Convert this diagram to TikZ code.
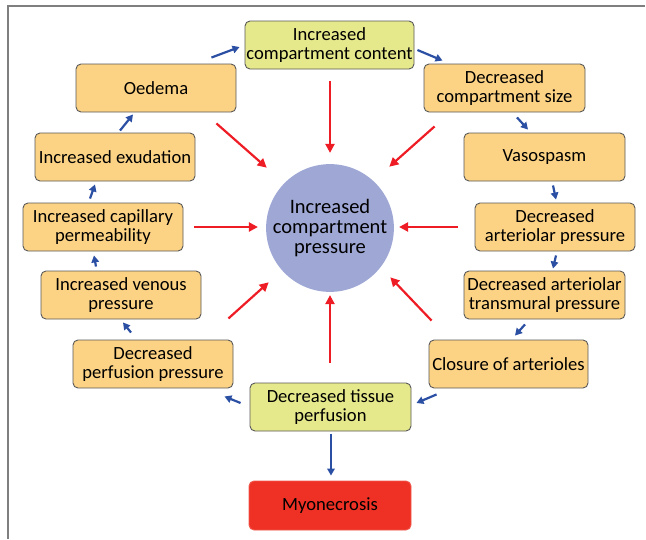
\documentclass[tikz,border=0pt]{standalone}
\usepackage{fontspec}
\setmainfont{Carlito}
\usetikzlibrary{arrows.meta,calc}
\definecolor{boxor}{HTML}{FCD385}
\definecolor{boxgr}{HTML}{E5E88B}
\definecolor{boxred}{HTML}{EE3124}
\definecolor{circ}{HTML}{9FA8D5}
\definecolor{barrow}{HTML}{2A4FA3}
\definecolor{rarrow}{HTML}{EE1C25}
\definecolor{frame}{HTML}{7F7F7F}
\tikzset{
  x=1pt,y=-1pt,
  box/.style={draw=black!65,line width=0.9pt,rounded corners=5pt,fill=boxor,
    minimum width=160pt,minimum height=48pt,inner sep=0pt,align=center,
    font=\fontsize{18.6}{19}\selectfont},
  gbox/.style={box,fill=boxgr},
  rbox/.style={box,fill=boxred,draw=boxred!80!white},
  barr/.style={draw=barrow,line width=2.2pt,-{Triangle[length=7pt,width=7.5pt]}},
  rarr/.style={draw=rarrow,line width=2.2pt,-{Triangle[length=9pt,width=9pt]}},
}
\begin{document}
\begin{tikzpicture}
\useasboundingbox (0,0) rectangle (646,539);
\draw[frame,line width=1.6pt] (8,539) -- (8,6) -- (645,6);

\node[gbox,minimum width=169pt] (cont) at (329.5,45) {Increased\\compartment content};
\node[box] (oed) at (156,88) {Oedema};
\node[box,minimum width=161pt] (size) at (504.5,88) {Decreased\\compartment size};
\node[box] (exu) at (115,157) {Increased exudation};
\node[box,minimum width=161pt] (vaso) at (544.5,157) {Vasospasm};
\node[box] (cap) at (103,227) {Increased capillary\\permeability};
\node[box] (dap) at (555,227) {Decreased\\arteriolar pressure};
\node[box] (ven) at (121,295) {Increased venous\\pressure};
\node[box,minimum width=161pt] (trans) at (544.5,295) {Decreased arteriolar\\transmural pressure};
\node[box] (dpp) at (153,364) {Decreased\\perfusion pressure};
\node[box,minimum width=159pt] (clo) at (508.5,364) {Closure of arterioles};
\node[gbox,minimum width=161pt] (tis) at (330.5,407) {Decreased tissue\\perfusion};
\node[rbox,minimum width=162pt,minimum height=49pt] (myo) at (330,505.5) {Myonecrosis};
\node[circle,fill=circ,minimum size=124pt,inner sep=0pt,align=center,
  font=\fontsize{20.5}{20}\selectfont] (cp) at (330,228) {Increased\\compartment\\pressure};

% blue cycle arrows
\draw[barr] ($(oed.north east)+(-25,-6)$) -- ($(cont.west)+(-5,2)$);
\draw[barr] ($(cont.east)+(3,5)$) -- ($(size.north west)+(19,-3)$);
\draw[barr] ($(size.south)+(12.5,5)$) -- ($(vaso.north)+(-16.5,-3)$);
\draw[barr] ($(vaso.south)+(8.5,4)$) -- ($(dap.north)+(1,-3)$);
\draw[barr] ($(dap.south)+(1,4)$) -- ($(trans.north)+(8.5,-2)$);
\draw[barr] ($(trans.south)+(-19.5,5)$) -- ($(clo.north)+(6.5,-4)$);
\draw[barr] ($(clo.south west)+(8,6)$) -- ($(tis.east)+(5,-4)$);
\draw[barr] ($(tis.west)+(-9,-4)$) -- ($(dpp.south east)+(-9,8)$);
\draw[barr] ($(dpp.north)+(-22,-7)$) -- ($(ven.south)+(2,3)$);
\draw[barr] ($(ven.north)+(-25,-4)$) -- ($(cap.south)+(-9,4)$);
\draw[barr] ($(cap.north)+(-13,-4)$) -- ($(exu.south)+(-20,3)$);
\draw[barr] ($(exu.north)+(5,-2)$) -- ($(oed.south)+(-23,2)$);
\draw[barr] ($(tis.south)+(0.5,3)$) -- ($(myo.north)+(1,-5)$);

% red arrows to the circle
\draw[rarr] ($(cont.south)+(0.5,12)$) -- ($(cp.north)+(0,-11)$);
\draw[rarr] ($(oed.south east)+(-20,11)$) -- ($(cp.north west)+(-18,-15)$);
\draw[rarr] ($(size.south west)+(11,14)$) -- ($(cp.north east)+(14,-16)$);
\draw[rarr] ($(cap.east)+(11,0)$) -- ($(cp.west)+(-8,-1)$);
\draw[rarr] ($(dap.west)+(-17,0)$) -- ($(cp.east)+(5,-1)$);
\draw[rarr] ($(ven.south east)+(27,-1)$) -- ($(cp.south west)+(-16,9)$);
\draw[rarr] ($(clo.north west)+(3,-19)$) -- ($(cp.south east)+(15,4)$);
\draw[rarr] ($(tis.north)+(-0.5,-20)$) -- ($(cp.south)+(0,3)$);
\end{tikzpicture}
\end{document}
